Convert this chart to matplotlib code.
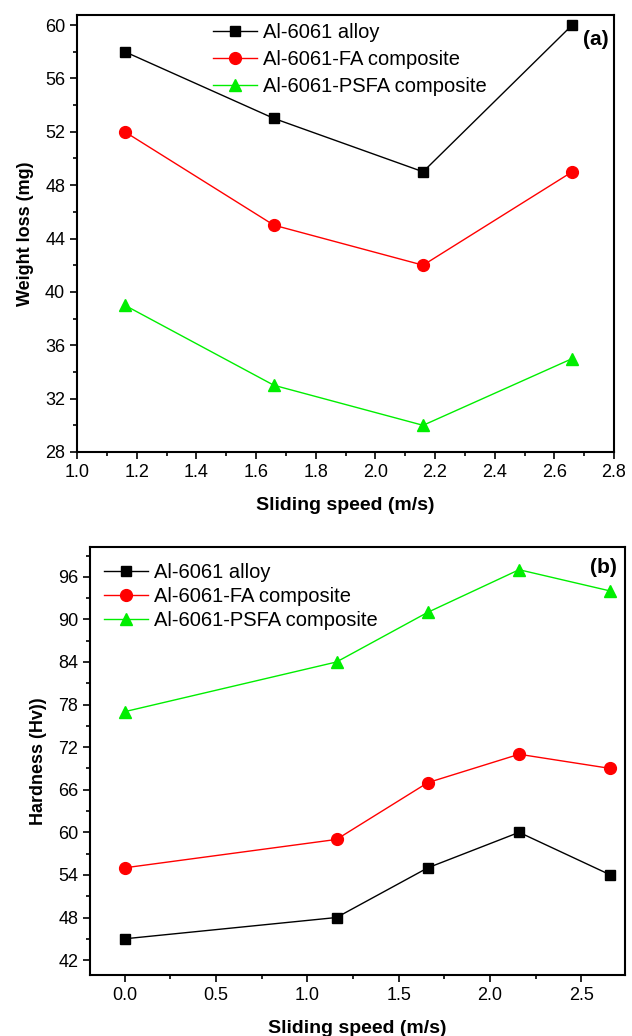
"""
Weight loss and hardness versus sliding speed
"""
import numpy as np
from matplotlib import pyplot as plt
from matplotlib.ticker import MultipleLocator

plt.rcParams['font.family'] = ['Liberation Sans', 'DejaVu Sans']

labels = ['Al-6061 alloy', 'Al-6061-FA composite', 'Al-6061-PSFA composite']
colors = ['black', 'red', '#00ee00']
markers = ['s', 'o', '^']
msizes = [7, 8.5, 9]

# (a) weight loss
speed_a = [1.16, 1.66, 2.16, 2.66]
loss_alloy = [58, 53, 49, 60]
loss_fa = [52, 45, 42, 49]
loss_psfa = [39, 33, 30, 35]

# (b) hardness
speed_b = [0.0, 1.16, 1.66, 2.16, 2.66]
hard_alloy = [45, 48, 55, 60, 54]
hard_fa = [55, 59, 67, 71, 69]
hard_psfa = [77, 84, 91, 97, 94]


def style_axes(ax):
    for s in ax.spines.values():
        s.set_linewidth(1.5)
    ax.tick_params(which='both', direction='out', top=False, right=False, width=1.2, labelsize=13)
    ax.tick_params(which='major', length=5)
    ax.tick_params(which='minor', length=3)


def main():
    fig = plt.figure(figsize=(6.32, 10.36), dpi=100)

    ax1 = fig.add_axes([77 / 632, 1 - 452 / 1036, (614 - 77) / 632, (452 - 15) / 1036])
    for y, lab, c, m, ms in zip([loss_alloy, loss_fa, loss_psfa], labels, colors, markers, msizes):
        ax1.plot(speed_a, y, color=c, marker=m, markersize=ms, lw=1, label=lab, clip_on=False)
    ax1.set_xlim(1.0, 2.8)
    ax1.set_ylim(28, 60.75)
    ax1.xaxis.set_major_locator(MultipleLocator(0.2))
    ax1.xaxis.set_minor_locator(MultipleLocator(0.1))
    ax1.yaxis.set_major_locator(MultipleLocator(4))
    ax1.yaxis.set_minor_locator(MultipleLocator(2))
    ax1.xaxis.set_major_formatter(lambda v, p: f'{v:.1f}')
    style_axes(ax1)
    ax1.set_xlabel('Sliding speed (m/s)', fontsize=14, fontweight='bold', labelpad=12)
    ax1.set_ylabel('Weight loss (mg)', fontsize=13, fontweight='bold', labelpad=8)
    ax1.legend(loc='upper left', bbox_to_anchor=(0.23, 1.01), frameon=False, fontsize=14.5,
               handlelength=2.2, handletextpad=0.3, labelspacing=0.4, borderaxespad=0.2)
    ax1.text(0.99, 0.965, '(a)', transform=ax1.transAxes, ha='right', va='top',
             fontsize=15, fontweight='bold')

    ax2 = fig.add_axes([90 / 632, 1 - 975 / 1036, (625 - 90) / 632, (975 - 547) / 1036])
    for y, lab, c, m, ms in zip([hard_alloy, hard_fa, hard_psfa], labels, colors, markers, msizes):
        ax2.plot(speed_b, y, color=c, marker=m, markersize=ms, lw=1, label=lab, clip_on=False)
    ax2.set_xlim(-0.19, 2.74)
    ax2.set_ylim(39.9, 100.2)
    ax2.xaxis.set_major_locator(MultipleLocator(0.5))
    ax2.xaxis.set_minor_locator(MultipleLocator(0.25))
    ax2.yaxis.set_major_locator(MultipleLocator(6))
    ax2.yaxis.set_minor_locator(MultipleLocator(3))
    ax2.xaxis.set_major_formatter(lambda v, p: f'{v:.1f}')
    style_axes(ax2)
    ax2.set_xlabel('Sliding speed (m/s)', fontsize=14, fontweight='bold', labelpad=12)
    ax2.set_ylabel('Hardness (Hv))', fontsize=13, fontweight='bold', labelpad=8)
    ax2.legend(loc='upper left', bbox_to_anchor=(0.0, 0.995), frameon=False, fontsize=14.5,
               handlelength=2.2, handletextpad=0.3, labelspacing=0.25, borderaxespad=0.3)
    ax2.text(0.985, 0.975, '(b)', transform=ax2.transAxes, ha='right', va='top',
             fontsize=15, fontweight='bold')

    fig.savefig('out.png', dpi=100)


if __name__ == '__main__':
    main()
